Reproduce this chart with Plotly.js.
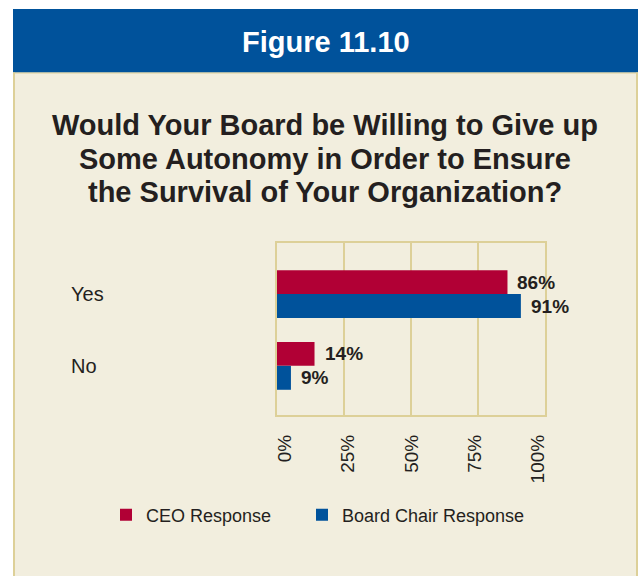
<!DOCTYPE html>
<html>
<head>
<meta charset="utf-8">
<script src="https://cdn.plot.ly/plotly-3.0.1.min.js"></script>
<style>html,body{margin:0;padding:0;background:#fff;}#chart{width:638px;height:576px;}</style>
</head>
<body>
<div id="chart"></div>
<script>
// ---- data ----
const categories = ['Yes', 'No'];
const ceoValues = [86, 14];
const ceoLabels = ['86%', '14%'];
const boardValues = [91, 5.2];   // bar length as drawn in the reference
const boardLabels = ['91%', '9%'];
const tickValues = [0, 25, 50, 75, 100];
const tickLabels = ['0%', '25%', '50%', '75%', '100%'];
const seriesNames = ['CEO Response', 'Board Chair Response'];
const figureLabel = 'Figure 11.10';
const titleLines = ['Would Your Board be Willing to Give up', 'Some Autonomy in Order to Ensure', 'the Survival of Your Organization?'];

// ---- style ----
const RED = 'rgb(177,0,53)';
const BLUE = 'rgb(0,82,155)';
const CREAM = 'rgb(242,238,222)';
const TAN = 'rgb(221,208,152)';
const TXT = '#241f20';
const FONT = 'Arial, "Liberation Sans", Helvetica, sans-serif';

const W = 638, H = 576;
const L = 277, R = 93, T = 243, B = 161;
const PW = W - L - R, PH = H - T - B;
const xp = px => (px - L) / PW;
const yp = py => (H - B - py) / PH;

const traces = [
  {type: 'bar', orientation: 'h', name: seriesNames[0], y: categories, x: ceoValues,
   marker: {color: RED}, hoverinfo: 'skip', legend: 'legend'},
  {type: 'bar', orientation: 'h', name: seriesNames[1], y: categories, x: boardValues,
   marker: {color: BLUE}, hoverinfo: 'skip', legend: 'legend2'},
  // invisible trace to carry the tick-label axis
  {type: 'scatter', x: [0], y: [categories[0]], xaxis: 'x2', mode: 'markers',
   marker: {opacity: 0}, showlegend: false, hoverinfo: 'skip'}
];

const annotations = [];
annotations.push({xref: 'paper', yref: 'paper', x: xp(326), y: yp(42), xanchor: 'center', yanchor: 'middle',
  text: '<b>' + figureLabel + '</b>', showarrow: false, font: {family: FONT, size: 29, color: '#fff'}});
const titleCenters = [125, 158.5, 192];
titleLines.forEach((t, i) => {
  annotations.push({xref: 'paper', yref: 'paper', x: xp(325), y: yp(titleCenters[i]), xanchor: 'center', yanchor: 'middle',
    text: '<b>' + t + '</b>', showarrow: false, font: {family: FONT, size: 29, color: TXT}});
});
categories.forEach((c, i) => {
  annotations.push({xref: 'paper', yref: 'y', x: xp(69), y: c, xanchor: 'left', yanchor: 'middle',
    text: c, showarrow: false, font: {family: FONT, size: 20, color: TXT}});
  annotations.push({xref: 'x', yref: 'y', x: ceoValues[i], y: c, yshift: 12, xshift: 8,
    xanchor: 'left', yanchor: 'middle', text: '<b>' + ceoLabels[i] + '</b>', showarrow: false,
    font: {family: FONT, size: 19, color: TXT}});
  annotations.push({xref: 'x', yref: 'y', x: boardValues[i], y: c, yshift: -12, xshift: 8,
    xanchor: 'left', yanchor: 'middle', text: '<b>' + boardLabels[i] + '</b>', showarrow: false,
    font: {family: FONT, size: 19, color: TXT}});
});

const shapes = [
  {type: 'rect', xref: 'paper', yref: 'paper', x0: xp(0), x1: xp(13), y0: yp(0), y1: yp(H), fillcolor: '#fff', line: {width: 0}, layer: 'below'},
  {type: 'rect', xref: 'paper', yref: 'paper', x0: xp(0), x1: xp(W), y0: yp(0), y1: yp(9), fillcolor: '#fff', line: {width: 0}, layer: 'below'},
  {type: 'rect', xref: 'paper', yref: 'paper', x0: xp(13), x1: xp(W), y0: yp(9), y1: yp(72.5), fillcolor: BLUE, line: {width: 0}, layer: 'below'},
  {type: 'line', xref: 'paper', yref: 'paper', x0: xp(14), x1: xp(14), y0: yp(72.5), y1: yp(H), line: {color: TAN, width: 2}, layer: 'below'},
  {type: 'line', xref: 'paper', yref: 'paper', x0: xp(637), x1: xp(637), y0: yp(72.5), y1: yp(H), line: {color: TAN, width: 2}, layer: 'below'},
  {type: 'line', xref: 'paper', yref: 'paper', x0: xp(13), x1: xp(W), y0: yp(73), y1: yp(73), line: {color: TAN, width: 1}, layer: 'below'}
];

const legendBase = {orientation: 'h', xanchor: 'left', yanchor: 'middle', y: yp(515),
  font: {family: FONT, size: 18, color: TXT}, bgcolor: 'rgba(0,0,0,0)', itemclick: false, itemdoubleclick: false};

const layout = {
  width: W, height: H, autosize: false,
  margin: {l: L, r: R, t: T, b: B, pad: 0},
  paper_bgcolor: CREAM, plot_bgcolor: CREAM,
  font: {family: FONT, color: TXT},
  barmode: 'group', bargap: 0.333, bargroupgap: 0,
  showlegend: true,
  legend: Object.assign({}, legendBase, {x: xp(106)}),
  legend2: Object.assign({}, legendBase, {x: xp(302)}),
  xaxis: {range: [0, 100], tickvals: tickValues, showticklabels: false, showgrid: true, gridcolor: TAN, gridwidth: 1.6,
    zeroline: false, showline: true, mirror: true, linecolor: TAN, linewidth: 1.6, ticks: '', fixedrange: true},
  xaxis2: {overlaying: 'x', side: 'bottom', range: [-3.16, 102.77], tickvals: tickValues, ticktext: tickLabels,
    tickangle: -90, showgrid: false, zeroline: false, showline: false, ticks: '', ticklabelstandoff: 15,
    tickfont: {family: FONT, size: 19, color: TXT}, fixedrange: true},
  yaxis: {type: 'category', categoryorder: 'array', categoryarray: categories, range: [1.685, -0.7125],
    showticklabels: false, showgrid: false, zeroline: false, showline: true, mirror: true,
    linecolor: TAN, linewidth: 1.6, ticks: '', fixedrange: true},
  annotations: annotations,
  shapes: shapes
};

Plotly.newPlot('chart', traces, layout, {displayModeBar: false, staticPlot: true});
</script>
</body>
</html>
